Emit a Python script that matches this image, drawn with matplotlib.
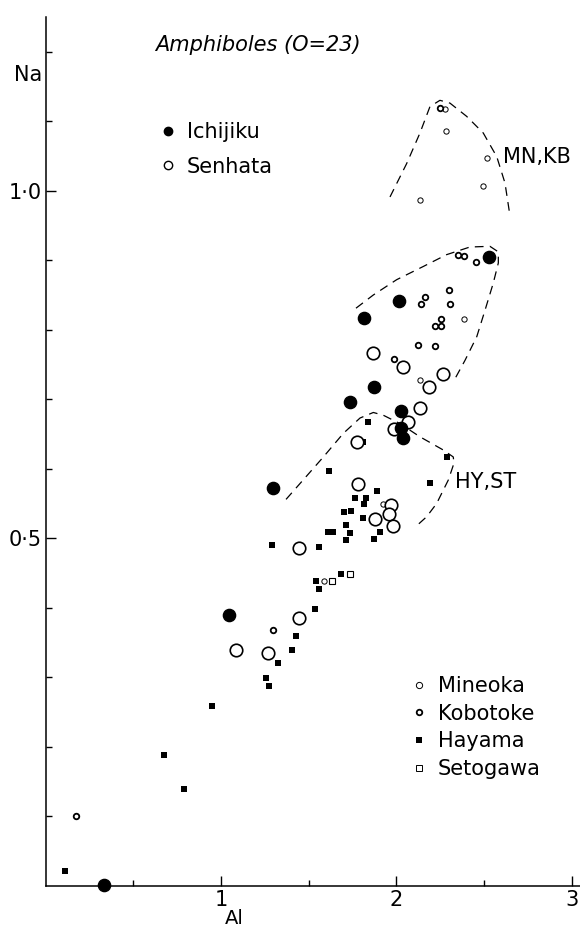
import numpy as np
import matplotlib.pyplot as plt
from matplotlib.lines import Line2D

plt.rcParams['font.family'] = ['DejaVu Sans']

# Al, Na per locality
ichijiku_al = [2.529, 2.014, 1.814, 1.875, 1.736, 2.027, 2.027, 2.037, 1.298, 1.047, 0.334]
ichijiku_na = [0.904, 0.841, 0.817, 0.718, 0.696, 0.683, 0.658, 0.644, 0.573, 0.390, 0.001]

senhata_al = [1.867, 2.038, 2.265, 2.185, 2.137, 2.065, 1.987, 1.774, 1.780, 1.968, 1.960,
              1.880, 1.979, 1.443, 1.443, 1.086, 1.268]
senhata_na = [0.766, 0.746, 0.736, 0.718, 0.687, 0.668, 0.657, 0.638, 0.578, 0.548, 0.535,
              0.528, 0.518, 0.486, 0.386, 0.339, 0.335]

mineoka_al = [2.280, 2.284, 2.516, 2.493, 2.135, 2.384, 2.135, 1.922, 1.589]
mineoka_na = [1.117, 1.086, 1.047, 1.007, 0.986, 0.816, 0.727, 0.549, 0.439]

kobotoke_al = [2.249, 2.354, 2.384, 2.455, 2.162, 2.143, 2.302, 2.305, 2.255, 2.222, 2.255,
               2.124, 2.222, 1.989, 1.297, 0.173]
kobotoke_na = [1.119, 0.907, 0.906, 0.897, 0.847, 0.837, 0.857, 0.837, 0.816, 0.806, 0.806,
               0.778, 0.776, 0.758, 0.368, 0.101]

hayama_al = [1.840, 1.812, 2.287, 1.616, 2.194, 1.890, 1.766, 1.827, 1.817, 1.700, 1.743,
             1.808, 1.713, 1.612, 1.641, 1.736, 1.907, 1.713, 1.873, 1.289, 1.559, 1.686,
             1.544, 1.557, 1.536, 1.428, 1.407, 1.325, 1.257, 1.272, 0.947, 0.675, 0.789, 0.110]
hayama_na = [0.668, 0.638, 0.617, 0.597, 0.579, 0.568, 0.558, 0.558, 0.549, 0.538, 0.539,
             0.529, 0.519, 0.509, 0.509, 0.508, 0.509, 0.498, 0.499, 0.490, 0.487, 0.448,
             0.438, 0.427, 0.399, 0.360, 0.340, 0.320, 0.299, 0.288, 0.259, 0.188, 0.139, 0.021]

setogawa_al = [1.738, 1.631]
setogawa_na = [0.449, 0.439]

# dashed field outlines
mnkb_al = [1.964, 2.059, 2.135, 2.192, 2.249, 2.306, 2.401, 2.496, 2.573, 2.620, 2.649]
mnkb_na = [0.991, 1.039, 1.083, 1.121, 1.130, 1.126, 1.107, 1.083, 1.049, 1.011, 0.963]

mid_al = [1.770, 1.869, 2.002, 2.154, 2.287, 2.420, 2.534, 2.582, 2.582, 2.553, 2.506,
          2.459, 2.392, 2.325]
mid_na = [0.831, 0.850, 0.872, 0.891, 0.908, 0.919, 0.920, 0.912, 0.896, 0.867, 0.828,
          0.790, 0.756, 0.725]

hyst_al = [1.371, 1.469, 1.584, 1.698, 1.793, 1.869, 1.926, 2.021, 2.135, 2.268, 2.325,
           2.329, 2.297, 2.230, 2.173, 2.116]
hyst_na = [0.556, 0.584, 0.617, 0.651, 0.673, 0.681, 0.677, 0.665, 0.646, 0.627, 0.617,
           0.608, 0.584, 0.550, 0.531, 0.518]

W, H = 580, 927
fig = plt.figure(figsize=(W / 100, H / 100), dpi=100)
ax = fig.add_axes([45.7 / W, (H - 885.9) / H, 3.05 * 175.3 / W, 1.25 * 695.2 / H])
ax.set_xlim(0, 3.05)
ax.set_ylim(0, 1.25)

dash = (0, (7, 5))
ax.plot(mnkb_al, mnkb_na, color='black', lw=0.9, linestyle=dash)
ax.plot(mid_al, mid_na, color='black', lw=0.9, linestyle=dash)
ax.plot(hyst_al, hyst_na, color='black', lw=0.9, linestyle=dash)

ax.plot(hayama_al, hayama_na, 's', color='black', ms=4.3, mew=0, clip_on=False)
ax.plot(setogawa_al, setogawa_na, 's', mfc='white', mec='black', ms=4.3, mew=0.8)
ax.plot(mineoka_al, mineoka_na, 'o', mfc='white', mec='black', ms=3.8, mew=0.7)
ax.plot(kobotoke_al, kobotoke_na, 'o', mfc='white', mec='black', ms=4.0, mew=1.3)
ax.plot(senhata_al, senhata_na, 'o', mfc='white', mec='black', ms=9, mew=1.2)
ax.plot(ichijiku_al, ichijiku_na, 'o', color='black', ms=8.8, clip_on=False)

ax.text(2.61, 1.048, 'MN,KB', fontsize=15, va='center', ha='left')
ax.text(2.335, 0.581, 'HY,ST', fontsize=15, va='center', ha='left')

# axes look
for s in ['top', 'right']:
    ax.spines[s].set_visible(False)
for s in ['left', 'bottom']:
    ax.spines[s].set_linewidth(1.1)
ax.set_xticks([1, 2, 3])
ax.set_xticklabels(['1', '2', '3'])
ax.set_xticks([0.5, 1.5, 2.5], minor=True)
ax.set_yticks([0.5, 1.0])
ax.set_yticklabels(['0·5', '1·0'])
ax.set_yticks([0.1, 0.2, 0.3, 0.4, 0.6, 0.7, 0.8, 0.9, 1.1, 1.2], minor=True)
ax.tick_params(which='both', direction='in', width=1.0, labelsize=15)
ax.tick_params(which='major', length=7, pad=3)
ax.tick_params(which='minor', length=4)

fig.text(28 / W, 1 - 75 / H, 'Na', fontsize=15, ha='center', va='center')
fig.text(234 / W, 1 - 919 / H, 'Al', fontsize=14, ha='center', va='center')
fig.text(155 / W, 1 - 45 / H, 'Amphiboles (O=23)', fontsize=15, style='italic',
         ha='left', va='center')

# legends
top_handles = [
    Line2D([], [], marker='o', ls='none', color='black', ms=6),
    Line2D([], [], marker='o', ls='none', mfc='white', mec='black', ms=6, mew=1.0),
]
leg1 = fig.legend(top_handles, ['Ichijiku', 'Senhata'], loc='upper left',
                  bbox_to_anchor=(157.6 / W, 1 - 122 / H), frameon=False, fontsize=15,
                  handlelength=1.0, handletextpad=0.4, borderpad=0, borderaxespad=0,
                  labelspacing=0.7)
bot_handles = [
    Line2D([], [], marker='o', ls='none', mfc='white', mec='black', ms=4.5, mew=0.7),
    Line2D([], [], marker='o', ls='none', mfc='white', mec='black', ms=4.0, mew=1.3),
    Line2D([], [], marker='s', ls='none', color='black', ms=4.5, mew=0),
    Line2D([], [], marker='s', ls='none', mfc='white', mec='black', ms=4.5, mew=0.7),
]
leg2 = fig.legend(bot_handles, ['Mineoka', 'Kobotoke', 'Hayama', 'Setogawa'],
                  loc='upper left', bbox_to_anchor=(408.6 / W, 1 - 676 / H), frameon=False,
                  fontsize=15, handlelength=1.0, handletextpad=0.4, borderpad=0,
                  borderaxespad=0, labelspacing=0.37)

fig.savefig('out.png', dpi=100, facecolor='white')
